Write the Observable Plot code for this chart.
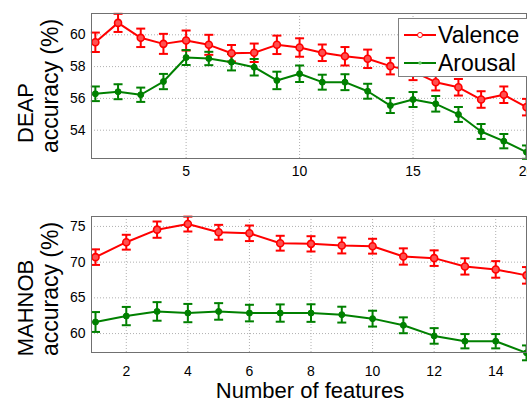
<!DOCTYPE html>
<html>
<head>
<meta charset="utf-8">
<script src="https://cdn.jsdelivr.net/npm/d3@7"></script>
<script src="https://cdn.jsdelivr.net/npm/@observablehq/plot@0.6"></script>
<style>
  html, body { margin: 0; padding: 0; background: #fff; overflow: hidden; width: 527px; height: 405px; }
  #wrap { position: relative; width: 527px; height: 405px; overflow: hidden; font-family: "Liberation Sans", Arial, sans-serif; }
  .panel { position: absolute; left: 0; width: 560px; }
  .panel svg { max-width: none !important; display: block; }
  .legend { position: absolute; left: 398px; top: 18px; width: 140px; height: 59px; border: 1px solid #808080; background: #fff; box-sizing: border-box; }
</style>
</head>
<body>
<div id="wrap">
  <div class="panel" id="top" style="top:0"></div>
  <div class="panel" id="bottom" style="top:190px"></div>
</div>
<script>
// ---- DEAP data ----
const deapFeatures = [1,2,3,4,5,6,7,8,9,10,11,12,13,14,15,16,17,18,19,20];
const deapValence = [59.53,60.75,59.81,59.43,59.64,59.37,58.84,58.87,59.37,59.2,58.87,58.65,58.49,58.03,57.7,57.02,56.7,55.93,56.23,55.45];
const deapValenceErr = [0.61,0.57,0.58,0.63,0.63,0.63,0.52,0.58,0.58,0.58,0.52,0.58,0.58,0.52,0.55,0.52,0.52,0.52,0.52,0.52];
const deapArousal = [56.29,56.42,56.23,57.06,58.57,58.51,58.28,57.96,57.13,57.55,57.02,57.02,56.45,55.55,55.93,55.66,54.99,53.92,53.31,52.62];
const deapArousalErr = [0.46,0.47,0.45,0.48,0.47,0.42,0.52,0.52,0.55,0.52,0.47,0.5,0.47,0.47,0.47,0.49,0.47,0.47,0.45,0.42];
const deapXTicks = [5,10,15,20];
const deapYTicks = [54,56,58,60];

// ---- MAHNOB data ----
const mahnobFeatures = [1,2,3,4,5,6,7,8,9,10,11,12,13,14,15];
const mahnobValence = [70.7,72.79,74.55,75.33,74.18,74.04,72.65,72.56,72.33,72.23,70.79,70.56,69.4,68.98,68.15];
const mahnobValenceErr = [1.09,1.04,1.14,1.04,1.04,1.09,1.04,1.07,1.11,1.04,1.14,1.09,1.14,1.16,1.16];
const mahnobArousal = [61.62,62.45,63.1,62.87,63.1,62.87,62.87,62.87,62.65,62.09,61.16,59.67,58.93,58.93,57.3];
const mahnobArousalErr = [1.39,1.28,1.3,1.28,1.16,1.16,1.21,1.23,1.11,1.11,1.11,1.09,1.0,1.0,1.04];
const mahnobXTicks = [2,4,6,8,10,12,14];
const mahnobYTicks = [60,65,70,75];

const seriesNames = ["Valence","Arousal"];
const colors = {Valence: "#ff0000", Arousal: "#008000"};

function rows(xs, val, valErr, aro, aroErr) {
  const out = [];
  xs.forEach((x, i) => {
    out.push({x, y: val[i], e: valErr[i], s: "Valence"});
    out.push({x, y: aro[i], e: aroErr[i], s: "Arousal"});
  });
  return out;
}

const capSymbol = {
  draw(ctx, size) {
    const w = Math.sqrt(size / Math.PI);
    ctx.moveTo(-w, 0); ctx.lineTo(w, 0);
  }
};

function makePanel({data, xDomain, yDomain, xTicks, yTicks, height, marginTop, marginBottom, xPad}) {
  const marks = [
    Plot.gridX(xTicks, {stroke: "#b0b0b0", strokeOpacity: 1, strokeDasharray: "1,2", strokeWidth: 1}),
    Plot.gridY(yTicks, {stroke: "#b0b0b0", strokeOpacity: 1, strokeDasharray: "1,2", strokeWidth: 1}),
    Plot.axisX(xTicks, {tickSize: 0, tickPadding: xPad, fontSize: 14, label: null}),
    Plot.axisY(yTicks, {tickSize: 0, tickPadding: 6, fontSize: 14, label: null}),
    Plot.ruleX(data, {x: "x", y1: d => d.y - d.e, y2: d => d.y + d.e, stroke: d => colors[d.s], strokeWidth: 2}),
    Plot.dot(data, {x: "x", y: d => d.y - d.e, symbol: capSymbol, r: 4.5, stroke: d => colors[d.s], strokeWidth: 2, fill: "none"}),
    Plot.dot(data, {x: "x", y: d => d.y + d.e, symbol: capSymbol, r: 4.5, stroke: d => colors[d.s], strokeWidth: 2, fill: "none"}),
    Plot.line(data, {x: "x", y: "y", z: "s", stroke: d => colors[d.s], strokeWidth: 2}),
    Plot.dot(data.filter(d => d.s === "Valence"), {x: "x", y: "y", r: 3.5, stroke: colors.Valence, strokeWidth: 1.6, fill: "#ff5050"}),
    Plot.dot(data.filter(d => d.s === "Arousal"), {x: "x", y: "y", r: 3, fill: colors.Arousal, stroke: colors.Arousal, strokeWidth: 1}),
    Plot.frame({stroke: "#707070", strokeWidth: 1})
  ];
  return Plot.plot({
    width: 560,
    height,
    marginLeft: 91,
    marginRight: 34,
    marginTop,
    marginBottom,
    style: {fontFamily: "'Liberation Sans', Arial, sans-serif", color: "#000", background: "transparent", maxWidth: "none"},
    x: {domain: xDomain},
    y: {domain: yDomain},
    marks
  });
}

const topData = rows(deapFeatures, deapValence, deapValenceErr, deapArousal, deapArousalErr);
const bottomData = rows(mahnobFeatures, mahnobValence, mahnobValenceErr, mahnobArousal, mahnobArousalErr);

const topPlot = makePanel({data: topData, xDomain: [0.83, 20], yDomain: [52.22, 61.34], xTicks: deapXTicks, yTicks: deapYTicks, height: 190, marginTop: 13, marginBottom: 32, xPad: 8});
const bottomPlot = makePanel({data: bottomData, xDomain: [0.87, 15], yDomain: [57.35, 76.39], xTicks: mahnobXTicks, yTicks: mahnobYTicks, height: 215, marginTop: 26, marginBottom: 53, xPad: 14});

document.getElementById("top").appendChild(topPlot);
document.getElementById("bottom").appendChild(bottomPlot);

// y labels (two lines each) and x label
function addLabel(svg, text, x, y, size, rotate) {
  d3.select(svg).append("text")
    .attr("transform", `translate(${x},${y})` + (rotate ? " rotate(-90)" : ""))
    .attr("text-anchor", "middle")
    .attr("font-size", size)
    .attr("font-family", "'Liberation Sans', Arial, sans-serif")
    .attr("fill", "#000")
    .text(text);
}
addLabel(topPlot, "DEAP", 33, 113, 22, true);
addLabel(topPlot, "accuracy (%)", 58, 86, 23, true);
addLabel(bottomPlot, "MAHNOB", 33, 308 - 190, 22, true);
addLabel(bottomPlot, "accuracy (%)", 58, 289 - 190, 23, true);
addLabel(bottomPlot, "Number of features", 310, 398 - 190, 22, false);

// legend
const legend = document.createElement("div");
legend.className = "legend";
const lg = d3.select(legend).append("svg").attr("width", 140).attr("height", 59);
seriesNames.forEach((name, i) => {
  const cy = i === 0 ? 16 : 44;
  lg.append("line").attr("x1", 5).attr("x2", 37).attr("y1", cy).attr("y2", cy)
    .attr("stroke", colors[name]).attr("stroke-width", 2);
  if (name === "Valence") {
    lg.append("circle").attr("cx", 21).attr("cy", cy).attr("r", 2.5).attr("fill", "#fff").attr("stroke", colors[name]).attr("stroke-width", 1);
  } else {
    lg.append("circle").attr("cx", 21).attr("cy", cy).attr("r", 1.8).attr("fill", "#6c6").attr("stroke", "none");
  }
  lg.append("text").attr("x", 39).attr("y", cy + 8).attr("font-size", 23)
    .attr("font-family", "'Liberation Sans', Arial, sans-serif").attr("fill", "#000").text(name);
});
document.getElementById("wrap").appendChild(legend);
</script>
</body>
</html>
